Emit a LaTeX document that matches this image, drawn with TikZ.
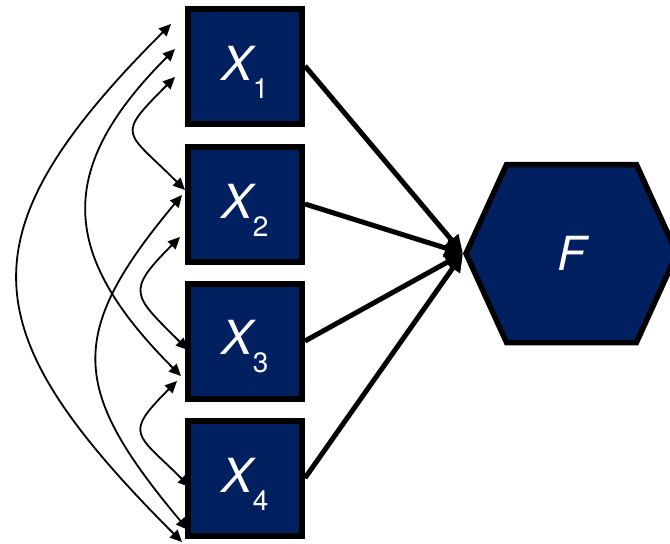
\documentclass[tikz,border=0pt]{standalone}
\usepackage{fontspec}
\setmainfont{TeX Gyre Heros}
\usetikzlibrary{arrows.meta,shapes.geometric,shapes.symbols,calc}
\definecolor{navy}{HTML}{002060}
\newcommand\varlab[1]{{\fontsize{47}{47}\selectfont\itshape X}\raisebox{-18pt}{\fontsize{28}{28}\selectfont #1}}
\begin{document}
\begin{tikzpicture}[x=1pt,y=-1pt,
  var/.style={draw=black,fill=navy,line width=6pt,minimum width=114pt,minimum height=115pt,inner sep=0pt},
  fac/.style={draw=black,fill=navy,line width=5.5pt,signal,signal to=west and east,signal pointer angle=131,minimum width=211pt,minimum height=178pt,inner sep=0pt,text=white},
  lab/.style={text=white,inner sep=0pt},
  load/.style={line width=5pt,-{Triangle[length=18pt,width=17pt]}},
  cov/.style={line width=1.8pt,{Triangle[length=12pt,width=11pt]}-{Triangle[length=12pt,width=11pt]}},
]
\useasboundingbox (0,0) rectangle (670,544);

\node[var] (x1) at (245,66) {};
\node[var] (x2) at (245,204) {};
\node[var] (x3) at (245,341) {};
\node[var] (x4) at (245,478) {};
\node[lab] (l1) at ($(x1.center)+(0,6)$) {\varlab{1}};
\node[lab] (l2) at ($(x2.center)+(0,6)$) {\varlab{2}};
\node[lab] (l3) at ($(x3.center)+(0,6)$) {\varlab{3}};
\node[lab] (l4) at ($(x4.center)+(0,6)$) {\varlab{4}};

\node[fac] (F) at (571.5,253.5) {\fontsize{47}{47}\selectfont\itshape F};

\foreach \i in {1,...,4} \draw[load] (x\i.east) -- (F.west);

% covariances
\draw[cov] ($(x1.center)+(-70,11)$) .. controls +(-60,60) and +(-60,-60) .. ($(x2.center)+(-60,-14)$);
\draw[cov] ($(x2.center)+(-65,33)$) .. controls +(-55,55) and +(-55,-55) .. ($(x3.center)+(-57,9)$);
\draw[cov] ($(x3.center)+(-68,40)$) .. controls +(-54,54) and +(-54,-54) .. ($(x4.center)+(-55,9)$);
\draw[cov] ($(x1.center)+(-70,-17)$) .. controls +(-121,121) and +(-121,-121) .. ($(x3.center)+(-64,35)$);
\draw[cov] ($(x1.center)+(-74,-42)$) .. controls +(-211,211) and +(-211,-211) .. ($(x4.center)+(-63,64)$);
\draw[cov] ($(x2.center)+(-63,-9)$) .. controls +(-117,140) and +(-117,-140) .. ($(x4.center)+(-57,52)$);
\end{tikzpicture}
\end{document}
